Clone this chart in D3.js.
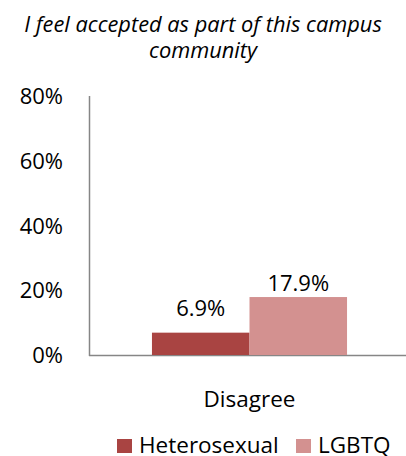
<!DOCTYPE html>
<html>
<head>
<meta charset="utf-8">
<script src="https://cdn.jsdelivr.net/npm/d3@7"></script>
<style>
  body { margin: 0; background: #fff; }
  svg text { font-family: "Open Sans", Lato, sans-serif; fill: #000; }
</style>
</head>
<body>
<svg id="chart" width="406" height="456"></svg>
<script>
var titleLines = ["I feel accepted as part of this campus", "community"];
var categories = ["Disagree"];
var seriesNames = ["Heterosexual", "LGBTQ"];
var seriesValues = [[6.9], [17.9]];
var yTicks = [0, 20, 40, 60, 80];
var colors = ["#A94442", "#D39190"];
var labelGap = [17, 6];

var svg = d3.select("#chart");
var plotLeft = 89, plotRight = 406, plotTop = 96, plotBottom = 355;

var x = d3.scaleBand().domain(categories).range([plotLeft + 2, plotRight + 2]);
var inner = d3.scaleBand().domain(seriesNames)
    .range([0, x.bandwidth()]).paddingInner(0).paddingOuter(0.625);
var y = d3.scaleLinear().domain([0, 80]).range([plotBottom, plotTop]);

// title
svg.append("g").selectAll("text")
    .data(titleLines)
    .enter()
    .append("text")
    .attr("x", 203)
    .attr("y", function (d, i) { return 32 + i * 26; })
    .attr("text-anchor", "middle")
    .style("font-style", "italic")
    .style("font-size", "21.8px")
    .text(function (d) { return d; });

// y tick labels
svg.append("g").selectAll("text")
    .data(yTicks)
    .enter()
    .append("text")
    .attr("x", 63)
    .attr("y", function (d) { return y(d) + 8; })
    .attr("text-anchor", "end")
    .style("font-size", "22px")
    .text(function (d) { return d + "%"; });

// axes lines
svg.append("line")
    .attr("x1", plotLeft + 0.5).attr("x2", plotLeft + 0.5)
    .attr("y1", plotTop).attr("y2", plotBottom + 1)
    .attr("stroke", "#868686").attr("stroke-width", 1.5);
svg.append("line")
    .attr("x1", plotLeft).attr("x2", plotRight)
    .attr("y1", plotBottom + 0.5).attr("y2", plotBottom + 0.5)
    .attr("stroke", "#868686").attr("stroke-width", 1.5);

// bars
function rows(s, si) {
    return categories.map(function (c, ci) {
        return { series: s, si: si, cat: c, value: seriesValues[si][ci] };
    });
}
var groups = svg.append("g").selectAll("g")
    .data(seriesNames)
    .enter()
    .append("g");
groups.selectAll("rect")
    .data(rows)
    .enter()
    .append("rect")
    .attr("x", function (d) { return x(d.cat) + inner(d.series); })
    .attr("width", inner.bandwidth())
    .attr("y", function (d) { return y(d.value); })
    .attr("height", function (d) { return plotBottom - y(d.value); })
    .attr("fill", function (d) { return colors[d.si]; });
groups.selectAll("text")
    .data(rows)
    .enter()
    .append("text")
    .attr("x", function (d) { return x(d.cat) + inner(d.series) + inner.bandwidth() / 2; })
    .attr("y", function (d) { return y(d.value) - labelGap[d.si]; })
    .attr("text-anchor", "middle")
    .style("font-size", "22px")
    .text(function (d) { return d.value.toFixed(1) + "%"; });

// category labels
svg.append("g").selectAll("text")
    .data(categories)
    .enter()
    .append("text")
    .attr("x", function (d) { return x(d) + x.bandwidth() / 2; })
    .attr("y", 407)
    .attr("text-anchor", "middle")
    .style("font-size", "22.5px")
    .text(function (d) { return d; });

// legend
var legendX = [117, 296];
var legend = svg.append("g").selectAll("g")
    .data(seriesNames)
    .enter()
    .append("g")
    .attr("transform", function (d, i) { return "translate(" + legendX[i] + ",439)"; });
legend.append("rect")
    .attr("width", 15).attr("height", 14)
    .attr("fill", function (d, i) { return colors[i]; });
legend.append("text")
    .attr("x", 22).attr("y", 14)
    .style("font-size", "22.5px")
    .text(function (d) { return d; });
</script>
</body>
</html>
